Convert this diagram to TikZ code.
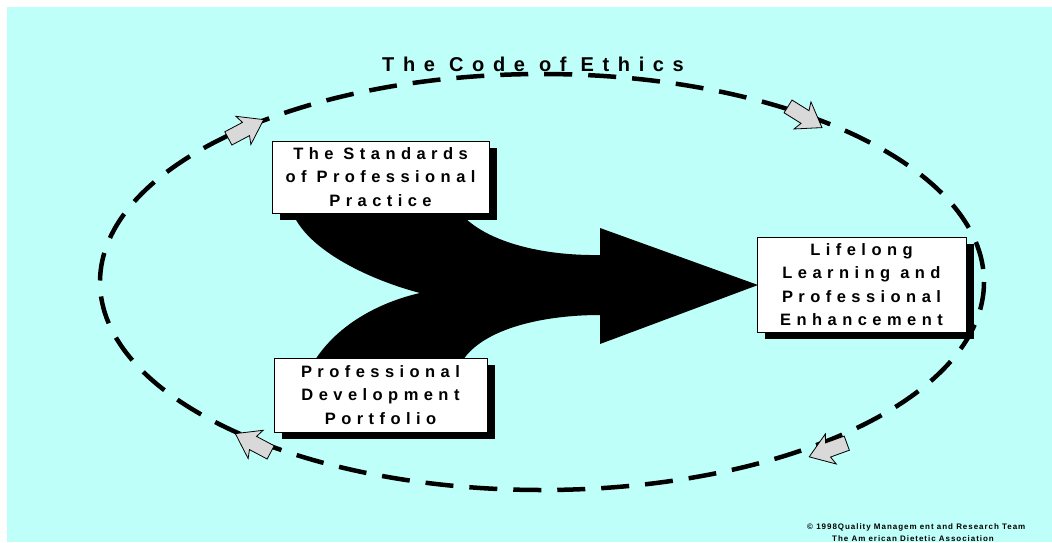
\documentclass[tikz,border=0pt]{standalone}
\usepackage{fontspec}
\setmainfont{Liberation Sans}
\newfontfamily\boxfont[LetterSpace=33]{Liberation Sans}
\newfontfamily\titlefont[LetterSpace=43]{Liberation Sans}
\newfontfamily\smallfont[LetterSpace=12]{Liberation Sans}
\usetikzlibrary{shadows}
\definecolor{bgcyan}{RGB}{191,255,250}
\definecolor{arrowgray}{RGB}{217,217,217}
\tikzset{
  textbox/.style={draw=black, line width=0.8pt, fill=white, inner sep=0pt,
    align=center, font=\boxfont\bfseries\fontsize{16.5}{23.5}\selectfont,
    drop shadow={shadow xshift=8pt, shadow yshift=-7pt, fill=black, opacity=1}},
  cyclering/.style={line width=4.5pt, dash pattern=on 28pt off 16pt},
  flowarrow/.style={fill=black},
  pics/cyclearrow/.style={code={
    \draw[fill=arrowgray, draw=black, line width=0.8pt]
      (-20,-7.5) -- (0,-7.5) -- (-3,-16) -- (20,0) -- (-3,16) -- (0,7.5) -- (-20,7.5) -- cycle;
  }}
}
\begin{document}
\begin{tikzpicture}[x=1pt,y=-1pt]
\useasboundingbox (0,0) rectangle (1052,542);
\fill[bgcyan] (7,7) rectangle (1052,542);

% dashed ring
\draw[cyclering] (542,282) ellipse [x radius=442, y radius=208];

% circulation arrows
\pic[rotate=28] at (246,129) {cyclearrow};
\pic[rotate=-32] at (805,117) {cyclearrow};
\pic[rotate=200] at (828,450) {cyclearrow};
\pic[rotate=152] at (253,443) {cyclearrow};

% big merging arrow
\fill[flowarrow] (290,205) -- (455,205)
  .. controls (472,236) and (530,256) .. (600,255)
  -- (600,228) -- (758,285) -- (600,344) -- (600,315)
  .. controls (540,315) and (478,330) .. (460,365)
  -- (312,365)
  .. controls (335,325) and (380,302) .. (420,293)
  .. controls (370,280) and (300,248) .. (290,205) -- cycle;

% boxes
\node[textbox, minimum width=217pt, minimum height=72pt] (std) at (380.5,177)
  {The Standards\\of Professional\\Practice};
\node[textbox, minimum width=213pt, minimum height=74pt] (pdp) at (380.5,395)
  {Professional\\Development\\Portfolio};
\node[textbox, minimum width=209pt, minimum height=95pt] (lll) at (861.5,284.5)
  {Lifelong\\Learning and\\Professional\\Enhancement};

% title
\node[font=\titlefont\bfseries\fontsize{20}{22}\selectfont] (title) at (533,64) {The Code of Ethics};

% copyright
\node[font=\smallfont\bfseries\fontsize{8}{10}\selectfont, anchor=west, inner sep=0pt] (copy1) at (807,527)
  {\textcopyright\ 1998Quality Managem ent and Research Team};
\node[font=\smallfont\bfseries\fontsize{8}{10}\selectfont, anchor=west, inner sep=0pt] (copy2) at (832,539)
  {The Am erican Dietetic Association};
\end{tikzpicture}
\end{document}
